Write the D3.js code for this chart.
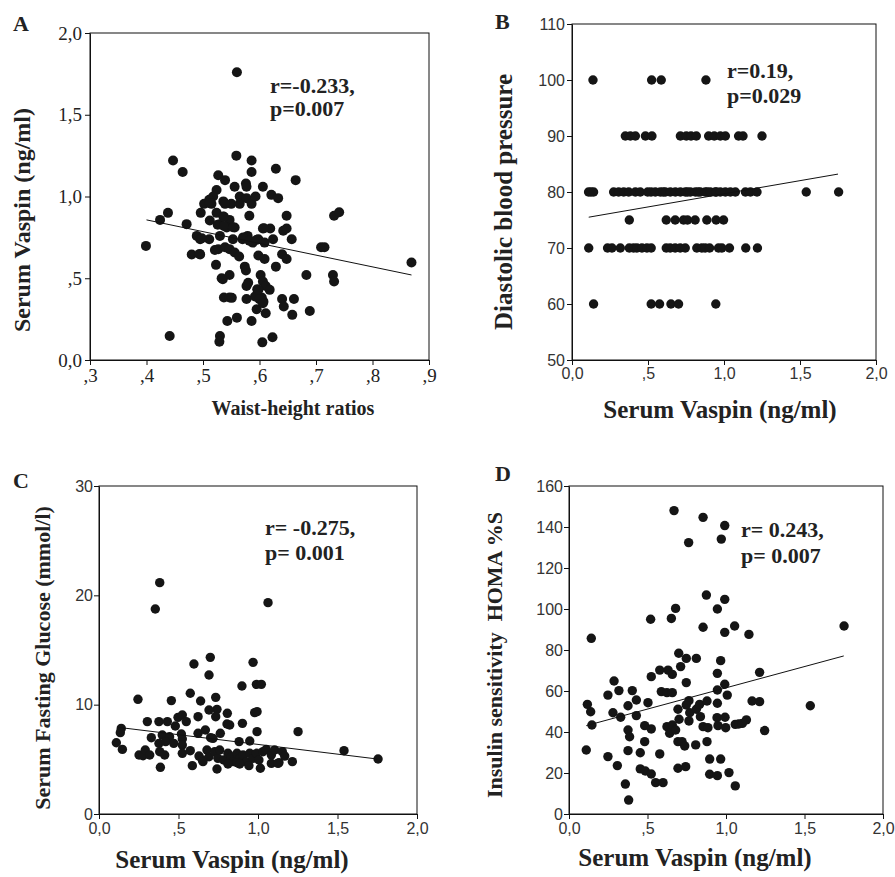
<!DOCTYPE html>
<html>
<head>
<meta charset="utf-8">
<script src="https://cdn.jsdelivr.net/npm/d3@7"></script>
<style>
  body { margin: 0; background: #fff; }
  svg { display: block; }
</style>
</head>
<body>
<div id="chart"></div>
<script>
// ---- data ----

// A: waist-height ratio vs serum vaspin
var aPoints = [
  [0.56,1.76],[0.447,1.22],[0.464,1.15],[0.559,1.25],[0.586,1.22],[0.586,1.15],[0.629,1.17],[0.664,1.10],
  [0.527,1.13],[0.539,1.10],[0.556,1.06],[0.576,1.08],[0.577,1.06],[0.606,1.06],[0.524,1.04],[0.565,1.00],
  [0.518,1.00],[0.511,0.98],[0.502,0.955],[0.515,0.955],[0.536,0.97],[0.550,0.955],[0.565,0.955],[0.577,0.99],
  [0.586,0.955],[0.593,1.00],[0.621,1.01],[0.633,0.99],[0.438,0.90],[0.496,0.90],[0.424,0.857],[0.471,0.831],
  [0.524,0.90],[0.536,0.878],[0.512,0.853],[0.530,0.831],[0.547,0.857],[0.556,0.81],[0.542,0.81],[0.582,0.882],
  [0.648,0.882],[0.732,0.882],[0.741,0.904],[0.606,0.804],[0.619,0.804],[0.642,0.79],[0.648,0.804],[0.399,0.698],
  [0.489,0.759],[0.495,0.739],[0.511,0.739],[0.530,0.759],[0.553,0.739],[0.570,0.739],[0.579,0.759],[0.588,0.718],
  [0.598,0.739],[0.609,0.718],[0.624,0.739],[0.657,0.739],[0.709,0.69],[0.715,0.69],[0.480,0.645],[0.495,0.645],
  [0.527,0.678],[0.539,0.69],[0.547,0.678],[0.556,0.657],[0.564,0.633],[0.598,0.639],[0.609,0.618],[0.640,0.647],
  [0.648,0.618],[0.523,0.582],[0.574,0.571],[0.576,0.547],[0.629,0.571],[0.869,0.596],[0.535,0.494],[0.547,0.52],
  [0.602,0.52],[0.683,0.52],[0.730,0.52],[0.732,0.48],[0.577,0.453],[0.580,0.473],[0.606,0.48],[0.611,0.453],
  [0.596,0.433],[0.618,0.429],[0.537,0.382],[0.547,0.382],[0.577,0.373],[0.592,0.388],[0.604,0.382],[0.607,0.357],
  [0.640,0.373],[0.661,0.373],[0.595,0.31],[0.611,0.286],[0.643,0.327],[0.658,0.276],[0.689,0.30],[0.543,0.239],
  [0.560,0.259],[0.586,0.239],[0.441,0.147],[0.530,0.147],[0.529,0.112],[0.605,0.108],[0.623,0.139],
  [0.537,0.876],[0.526,0.827],[0.537,0.82],[0.553,0.812],[0.498,0.745],[0.494,0.649],[0.521,0.673],[0.551,0.38],
  [0.533,0.50],[0.539,0.955],[0.512,0.961],[0.608,0.806],[0.571,0.75],[0.582,0.73],[0.595,0.735],[0.598,0.429],
  [0.60,0.372],[0.606,0.347]
];
var aFit = [[0.40,0.857],[0.869,0.52]];
var aXTicks = [0.3,0.4,0.5,0.6,0.7,0.8,0.9];
var aXTickLabels = [",3",",4",",5",",6",",7",",8",",9"];
var aYTicks = [0,0.5,1,1.5,2];
var aYTickLabels = ["0,0",",5","1,0","1,5","2,0"];

// B: serum vaspin vs diastolic blood pressure (values sit on rows)
var bRows = [
  [100, [0.138,0.524,0.587,0.881]],
  [90,  [0.351,0.384,0.417,0.483,0.526,0.713,0.752,0.783,0.818,0.899,0.936,0.976,1.009,1.096,1.125,1.25]],
  [80,  [0.109,0.125,0.142,0.274,0.307,0.340,0.373,0.417,0.449,0.498,0.52,0.548,0.581,0.60,0.614,0.647,0.680,
         0.713,0.746,0.76,0.779,0.812,0.83,0.844,0.877,0.89,0.910,0.943,0.95,0.976,1.009,1.042,1.075,1.141,
         1.174,1.217,1.541,1.754]],
  [75,  [0.377,0.62,0.679,0.734,0.76,0.81,0.887,0.948,0.997]],
  [70,  [0.110,0.234,0.263,0.318,0.377,0.405,0.427,0.460,0.493,0.521,0.620,0.646,0.679,0.712,0.745,0.821,
         0.854,0.876,0.905,0.964,0.986,1.036,1.143,1.220]],
  [60,  [0.142,0.521,0.576,0.651,0.701,0.946]]
];
var bFit = [[0.11,75.5],[1.75,83.2]];
var vaspinTicks = [0,0.5,1,1.5,2];
var vaspinTickLabels = ["0,0",",5","1,0","1,5","2,0"];
var bYTicks = [50,60,70,80,90,100,110];

// C: serum vaspin vs fasting glucose
var cPoints = [
  [0.382,21.16],[0.354,18.75],[1.063,19.33],[0.700,14.33],[0.597,13.72],[0.969,13.87],[0.692,12.71],[0.899,11.71],
  [0.990,11.86],[1.021,11.86],[0.245,10.49],[0.455,10.37],[0.574,11.04],[0.639,10.34],[0.734,10.67],[0.742,9.57],
  [0.692,9.51],[0.979,9.27],[0.994,9.36],[0.304,8.45],[0.377,8.45],[0.430,8.45],[0.497,8.84],[0.524,9.05],
  [0.549,8.45],[0.623,8.90],[0.734,8.90],[0.807,9.21],[0.822,8.14],[0.902,8.29],[0.805,8.23],[0.140,7.83],
  [0.134,7.44],[0.329,6.98],[0.398,7.22],[0.444,7.07],[0.480,8.05],[0.518,7.32],[0.623,7.38],[0.669,7.68],
  [0.763,7.38],[0.994,7.53],[1.252,7.53],[0.109,6.52],[0.147,5.91],[0.377,6.46],[0.419,6.62],[0.470,6.46],
  [0.524,6.86],[0.524,6.31],[0.702,6.98],[0.717,6.92],[0.881,6.62],[0.948,6.68],[0.252,5.40],[0.277,5.33],
  [0.291,5.85],[0.319,5.40],[0.382,5.70],[0.413,5.40],[0.524,5.55],[0.574,5.79],[0.629,5.30],[0.650,4.94],
  [0.679,5.85],[0.692,5.24],[0.728,5.70],[0.748,5.09],[0.759,5.85],[0.784,4.94],[0.811,5.55],[0.832,5.24],
  [0.843,4.79],[0.868,5.55],[0.885,5.09],[0.906,5.40],[0.927,4.79],[0.948,5.55],[0.969,5.09],[0.990,5.55],
  [1.006,4.94],[1.031,5.70],[1.052,5.91],[1.084,5.40],[1.105,5.85],[1.132,4.70],[1.153,5.70],[1.168,5.30],
  [1.216,4.79],[1.541,5.79],[1.755,5.03],[0.386,4.27],[0.587,4.42],[0.742,4.12],[0.811,4.57],[0.943,4.42],
  [1.015,4.18],[1.084,4.63],[1.126,4.63],[0.654,4.79],[0.868,4.70],[0.885,4.57]
];
var cFit = [[0.12,7.93],[1.75,5.03]];
var cYTicks = [0,10,20,30];

// D: serum vaspin vs HOMA %S
var dPoints = [
  [0.669,148.0],[0.854,144.7],[0.992,140.7],[0.970,134.1],[0.762,132.4],[0.875,106.8],[0.992,104.7],[0.679,100.3],
  [0.945,100.0],[0.520,95.0],[0.652,95.4],[0.854,91.1],[0.992,88.6],[1.055,91.7],[1.146,87.6],[1.752,91.7],
  [0.142,85.7],[0.699,78.4],[0.747,75.9],[0.811,75.9],[0.966,74.8],[0.711,71.9],[0.578,70.2],[0.631,70.2],
  [0.658,68.1],[0.524,67.0],[0.747,64.1],[0.945,68.6],[1.214,69.1],[0.287,64.9],[0.318,60.2],[0.403,60.2],
  [0.248,58.0],[0.588,59.7],[0.624,59.2],[0.658,59.2],[0.992,63.3],[0.945,60.5],[1.008,58.0],[0.117,53.5],
  [0.138,49.9],[0.146,43.4],[0.376,52.8],[0.429,55.6],[0.503,54.3],[0.280,49.4],[0.329,47.2],[0.429,48.0],
  [0.482,43.1],[0.524,41.5],[0.376,41.0],[0.386,37.7],[0.482,35.3],[0.376,30.9],[0.454,29.9],[0.578,29.3],
  [0.248,28.0],[0.308,23.6],[0.110,31.2],[0.454,22.0],[0.486,21.0],[0.524,19.5],[0.552,15.3],[0.599,15.3],
  [0.359,14.6],[0.380,6.8],[0.624,42.6],[0.658,43.4],[0.641,39.4],[0.679,41.0],[0.701,46.2],[0.694,51.1],
  [0.747,53.2],[0.764,55.3],[0.769,49.4],[0.764,45.4],[0.811,51.1],[0.832,53.5],[0.837,47.5],[0.854,42.6],
  [0.879,55.1],[0.885,42.1],[0.945,54.0],[0.943,47.0],[0.949,43.1],[0.994,47.2],[0.998,42.1],[1.059,43.7],
  [1.081,43.9],[1.104,44.2],[1.130,45.9],[1.166,55.1],[1.214,54.8],[1.246,40.7],[1.537,52.8],[0.694,35.3],
  [0.720,35.3],[0.737,33.2],[0.807,33.7],[0.879,35.3],[0.694,22.3],[0.743,23.1],[0.896,26.8],[0.966,26.8],
  [0.896,19.4],[0.945,18.7],[1.019,20.2],[1.059,13.7]
];
var dFit = [[0.11,43.1],[1.75,77.1]];
var dYTicks = [0,20,40,60,80,100,120,140,160];

// flatten the row table of panel B
var bPoints = [];
bRows.forEach(function(row) {
  row[1].forEach(function(v) { bPoints.push([v, row[0]]); });
});

// ---- layout ----
var W = 895, H = 877;
var serif = "'Liberation Serif', 'Times New Roman', serif",
    sans = "'Liberation Sans', Arial, sans-serif";

var svg = d3.select("#chart").append("svg")
  .attr("width", W)
  .attr("height", H)
  .style("background", "#fff");

var panels = [
  { letter: "A", lx: 13, ly: 31,
    box: {left: 90, right: 429, top: 33, bottom: 360},
    xDomain: [0.3, 0.9], yDomain: [0, 2],
    xTicks: aXTicks, xTickLabels: aXTickLabels, yTicks: aYTicks, yTickLabels: aYTickLabels,
    tickFont: serif, tickSize: 19, tickFill: "#222", tickPadX: 4, tickPadY: 3,
    points: aPoints, fit: aFit, r: 5,
    xTitle: "Waist-height ratios", xtX: 293, xtY: 415, xtSize: 20,
    yTitle: "Serum Vaspin (ng/ml)", ytX: 30, ytY: 220, ytSize: 24,
    stats: ["r=-0.233,", "p=0.007"], sx: 270, sy: [93, 116] },
  { letter: "B", lx: 495, ly: 29,
    box: {left: 572, right: 876, top: 24, bottom: 360},
    xDomain: [0, 2], yDomain: [50, 110],
    xTicks: vaspinTicks, xTickLabels: vaspinTickLabels, yTicks: bYTicks, yTickLabels: null,
    tickFont: sans, tickSize: 16, tickFill: "#333", tickPadX: 3, tickPadY: 2,
    points: bPoints, fit: bFit, r: 4.7,
    xTitle: "Serum Vaspin (ng/ml)", xtX: 720, xtY: 418, xtSize: 25,
    yTitle: "Diastolic blood pressure", ytX: 512, ytY: 202, ytSize: 25,
    stats: ["r=0.19,", "p=0.029"], sx: 727, sy: [78, 103] },
  { letter: "C", lx: 13, ly: 488,
    box: {left: 99, right: 417, top: 486, bottom: 814},
    xDomain: [0, 2], yDomain: [0, 30],
    xTicks: vaspinTicks, xTickLabels: vaspinTickLabels, yTicks: cYTicks, yTickLabels: null,
    tickFont: sans, tickSize: 16, tickFill: "#333", tickPadX: 4, tickPadY: 1,
    points: cPoints, fit: cFit, r: 4.7,
    xTitle: "Serum Vaspin (ng/ml)", xtX: 232, xtY: 868, xtSize: 25,
    yTitle: "Serum Fasting Glucose (mmol/l)", ytX: 50, ytY: 658, ytSize: 22,
    stats: ["r= -0.275,", "p= 0.001"], sx: 265, sy: [535, 560] },
  { letter: "D", lx: 495, ly: 481,
    box: {left: 569, right: 883, top: 486, bottom: 814},
    xDomain: [0, 2], yDomain: [0, 160],
    xTicks: vaspinTicks, xTickLabels: vaspinTickLabels, yTicks: dYTicks, yTickLabels: null,
    tickFont: sans, tickSize: 16, tickFill: "#333", tickPadX: 4, tickPadY: 1,
    points: dPoints, fit: dFit, r: 4.7,
    xTitle: "Serum Vaspin (ng/ml)", xtX: 695, xtY: 866, xtSize: 25,
    yTitle: "Insulin sensitivity  HOMA %S", ytX: 502, ytY: 655, ytSize: 22,
    stats: ["r= 0.243,", "p= 0.007"], sx: 741, sy: [537, 563] }
];

panels.forEach(drawPanel);

function drawPanel(p) {
  var b = p.box;
  var x = d3.scaleLinear().domain(p.xDomain).range([b.left, b.right]);
  var y = d3.scaleLinear().domain(p.yDomain).range([b.bottom, b.top]);
  var g = svg.append("g").attr("class", "panel");

  // frame
  g.append("rect")
    .attr("x", b.left).attr("y", b.top)
    .attr("width", b.right - b.left).attr("height", b.bottom - b.top)
    .attr("fill", "none").attr("stroke", "#111").attr("stroke-width", 1);

  // axes
  var xAxis = d3.axisBottom(x).tickValues(p.xTicks).tickSize(5).tickSizeOuter(0).tickPadding(p.tickPadX)
    .tickFormat(function(d, i) { return p.xTickLabels[i]; });
  var yAxis = d3.axisLeft(y).tickValues(p.yTicks).tickSize(5).tickSizeOuter(0).tickPadding(p.tickPadY)
    .tickFormat(function(d, i) { return p.yTickLabels ? p.yTickLabels[i] : d; });

  [g.append("g").attr("transform", "translate(0," + b.bottom + ")").call(xAxis),
   g.append("g").attr("transform", "translate(" + b.left + ",0)").call(yAxis)].forEach(function(ax) {
    ax.select(".domain").attr("stroke", "#111");
    ax.selectAll(".tick line").attr("stroke", "#111");
    ax.selectAll(".tick text")
      .attr("fill", p.tickFill)
      .style("font-family", p.tickFont)
      .style("font-size", p.tickSize + "px");
  });

  // dots
  g.selectAll(".dot")
    .data(p.points)
  .enter().append("circle")
    .attr("class", "dot")
    .attr("cx", function(d) { return x(d[0]); })
    .attr("cy", function(d) { return y(d[1]); })
    .attr("r", p.r)
    .attr("fill", "#151515");

  // regression line
  g.append("path")
    .datum(p.fit)
    .attr("d", d3.line().x(function(d) { return x(d[0]); }).y(function(d) { return y(d[1]); }))
    .attr("fill", "none")
    .attr("stroke", "#111")
    .attr("stroke-width", 1);

  // stats text
  p.stats.forEach(function(s, i) {
    g.append("text")
      .attr("x", p.sx).attr("y", p.sy[i])
      .style("font-family", serif).style("font-size", "22px").style("font-weight", "bold")
      .attr("fill", "#222")
      .text(s);
  });

  // titles
  g.append("text")
    .attr("x", p.xtX).attr("y", p.xtY)
    .attr("text-anchor", "middle")
    .style("font-family", serif).style("font-size", p.xtSize + "px").style("font-weight", "bold")
    .attr("fill", "#222")
    .text(p.xTitle);

  g.append("text")
    .attr("transform", "translate(" + p.ytX + "," + p.ytY + ") rotate(-90)")
    .attr("text-anchor", "middle")
    .style("font-family", serif).style("font-size", p.ytSize + "px").style("font-weight", "bold")
    .style("white-space", "pre")
    .attr("fill", "#222")
    .text(p.yTitle);

  // panel letter
  g.append("text")
    .attr("x", p.lx).attr("y", p.ly)
    .style("font-family", serif).style("font-size", "22px").style("font-weight", "bold")
    .attr("fill", "#222")
    .text(p.letter);
}
</script>
</body>
</html>
